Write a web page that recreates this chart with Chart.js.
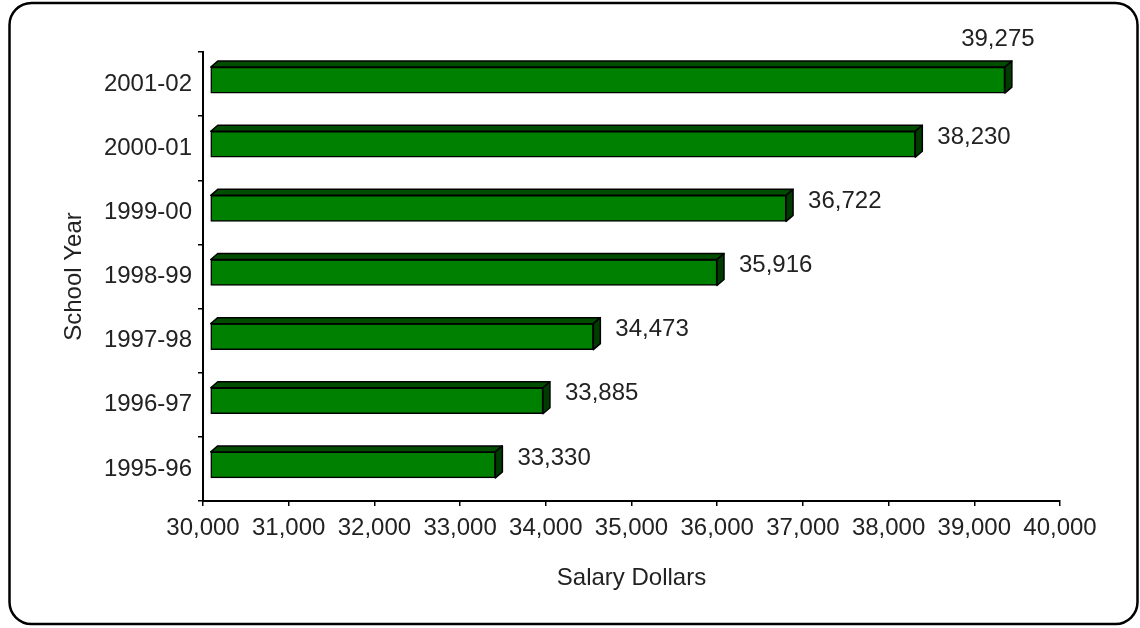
<!DOCTYPE html>
<html>
<head>
<meta charset="utf-8">
<style>
  html, body { margin: 0; padding: 0; background: #ffffff; }
  #wrap { width: 1140px; height: 628px; position: relative; }
</style>
<script src="https://cdn.jsdelivr.net/npm/chart.js@4.4.1/dist/chart.umd.min.js"></script>
</head>
<body>
<div id="wrap"><canvas id="c" width="1140" height="628"></canvas></div>
<script>
const categories = ['2001-02', '2000-01', '1999-00', '1998-99', '1997-98', '1996-97', '1995-96'];
const salaries = [39275, 38230, 36722, 35916, 34473, 33885, 33330];
const xTickMin = 30000;
const xTickMax = 40000;
const xTickStep = 1000;
const xTitle = 'Salary Dollars';
const yTitle = 'School Year';

const FONT = 'Liberation Sans, Arial, sans-serif';
const TEXT = '#222222';
const DX = 7, DY = 6;         // 3D depth
const SHIFT_X = 7, SHIFT_Y = -4;

function fmt(v) { return Number(v).toLocaleString('en-US'); }

const frame = {
  id: 'frame',
  beforeDraw(chart) {
    const ctx = chart.ctx;
    ctx.save();
    ctx.fillStyle = '#ffffff';
    ctx.fillRect(0, 0, chart.width, chart.height);
    ctx.beginPath();
    ctx.roundRect(9.5, 3, 1128, 621, 22);
    ctx.lineWidth = 2.5;
    ctx.strokeStyle = '#000000';
    ctx.stroke();
    ctx.restore();
  }
};

const bars3d = {
  id: 'bars3d',
  beforeDatasetsDraw(chart) {
    chart.ctx.save();
    chart.ctx.translate(SHIFT_X, SHIFT_Y);
  },
  afterDatasetsDraw(chart) {
    const ctx = chart.ctx;
    ctx.restore();
    ctx.save();
    ctx.translate(SHIFT_X, SHIFT_Y);
    ctx.lineWidth = 1.5;
    ctx.strokeStyle = '#000000';
    ctx.lineJoin = 'round';
    const meta = chart.getDatasetMeta(0);
    meta.data.forEach(el => {
      const p = el.getProps(['x', 'y', 'base', 'height'], true);
      const top = p.y - p.height / 2, bot = p.y + p.height / 2;
      const l = p.base, r = p.x;
      // top face
      ctx.beginPath();
      ctx.moveTo(l, top);
      ctx.lineTo(l + DX, top - DY);
      ctx.lineTo(r + DX, top - DY);
      ctx.lineTo(r, top);
      ctx.closePath();
      ctx.fillStyle = '#004d00';
      ctx.fill();
      ctx.stroke();
      // side face
      ctx.beginPath();
      ctx.moveTo(r, top);
      ctx.lineTo(r + DX, top - DY);
      ctx.lineTo(r + DX, bot - DY);
      ctx.lineTo(r, bot);
      ctx.closePath();
      ctx.fillStyle = '#003c00';
      ctx.fill();
      ctx.stroke();
    });
    ctx.restore();
  },
  afterDraw(chart) {
    const ctx = chart.ctx;
    const meta = chart.getDatasetMeta(0);
    const area = chart.chartArea;
    ctx.save();
    ctx.font = '24px ' + FONT;
    ctx.fillStyle = TEXT;
    ctx.textBaseline = 'middle';
    meta.data.forEach((el, i) => {
      const txt = fmt(salaries[i]);
      const w = ctx.measureText(txt).width;
      if (el.x + 29 + w > area.right) {
        ctx.textAlign = 'center';
        ctx.fillText(txt, el.x, el.y - 45);
      } else {
        ctx.textAlign = 'left';
        ctx.fillText(txt, el.x + 29, el.y - 11);
      }
    });
    ctx.restore();
  }
};

new Chart(document.getElementById('c'), {
  type: 'bar',
  data: {
    labels: categories,
    datasets: [{
      data: salaries,
      base: xTickMin,
      backgroundColor: '#008000',
      borderColor: '#000000',
      borderWidth: 1.5,
      borderSkipped: false,
      barThickness: 26,
      clip: false
    }]
  },
  options: {
    indexAxis: 'y',
    responsive: false,
    animation: false,
    devicePixelRatio: 1,
    layout: { padding: { left: 0, top: 52, right: 80, bottom: 0 } },
    plugins: { legend: { display: false }, tooltip: { enabled: false }, title: { display: false } },
    scales: {
      x: {
        type: 'linear',
        min: xTickMin,
        max: xTickMax,
        ticks: {
          stepSize: xTickStep,
          color: TEXT,
          font: { family: FONT, size: 24 },
          padding: 8,
          maxRotation: 0,
          autoSkip: false,
          callback: v => fmt(v)
        },
        grid: { drawOnChartArea: false, drawTicks: true, tickLength: 5, color: '#000000', lineWidth: 1.5 },
        border: { display: true, color: '#000000', width: 2 },
        title: { display: true, text: xTitle, color: TEXT, font: { family: FONT, size: 24 }, padding: { top: 0, bottom: 35 } },
        afterFit: s => { s.height = 127; }
      },
      y: {
        type: 'category',
        ticks: { color: TEXT, font: { family: FONT, size: 24 }, padding: 6 },
        grid: { drawOnChartArea: false, drawTicks: true, tickLength: 5, color: '#000000', lineWidth: 1.5, offset: true },
        border: { display: true, color: '#000000', width: 2 },
        title: { display: true, text: yTitle, color: TEXT, font: { family: FONT, size: 24 }, padding: { top: 60, bottom: 0 } },
        afterFit: s => { s.width = 203; }
      }
    }
  },
  plugins: [frame, bars3d]
});
</script>
</body>
</html>
